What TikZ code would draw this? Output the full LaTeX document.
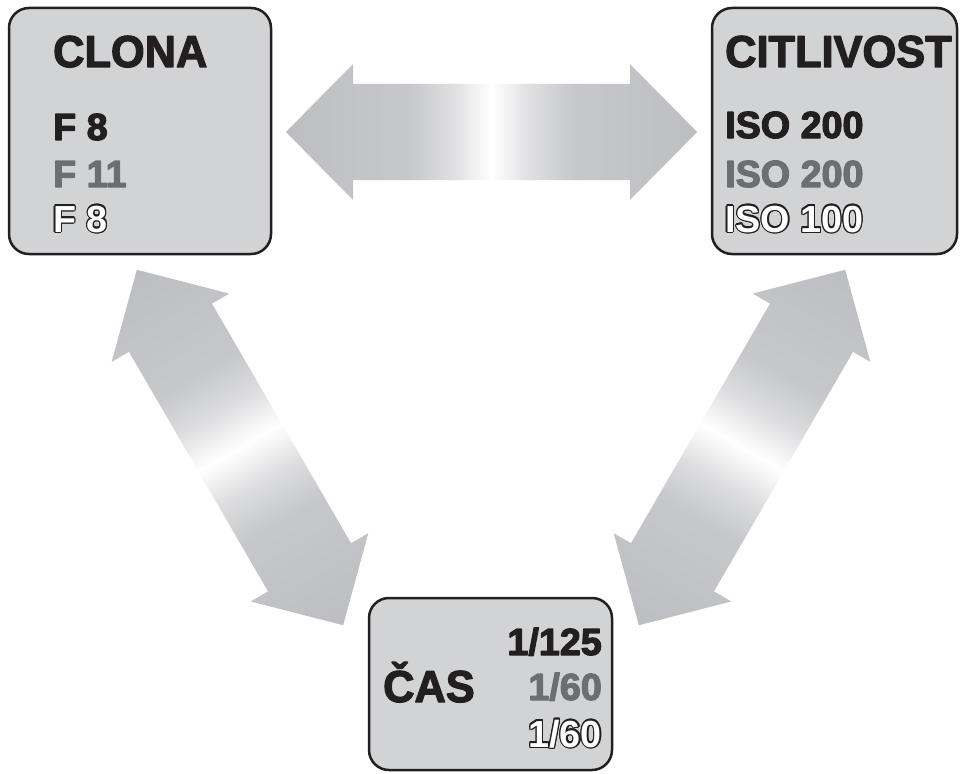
\documentclass[tikz,border=0pt]{standalone}
\usepackage{fontspec}
\setmainfont{Liberation Sans}
\newfontfamily\titlefont{Liberation Sans}[FakeStretch=0.97]
\definecolor{ink}{HTML}{231F20}
\definecolor{midgrey}{HTML}{6D6E71}
\definecolor{boxfill}{HTML}{D1D3D4}
\definecolor{ag}{RGB}{189,190,194}
\pgfdeclarehorizontalshading{arrowshade}{100bp}{color(0bp)=(ag); color(25bp)=(ag); color(40bp)=(ag!85!white); color(45bp)=(ag!52!white); color(48.5bp)=(ag!15!white); color(50bp)=(white); color(51.5bp)=(ag!15!white); color(55bp)=(ag!52!white); color(60bp)=(ag!85!white); color(75bp)=(ag); color(100bp)=(ag)}
% heavier solid text: fill and stroke in the text colour
\newcommand\heavytxt[1]{\special{pdf:literal direct q 2 Tr 1.2 w 1 j}#1\special{pdf:literal direct Q}}
\tikzset{
  box/.style={draw=ink, line width=2.5pt, fill=boxfill, rounded corners=20pt, inner sep=0pt},
  lbl/.style={anchor=base west, inner sep=0pt, font=\titlefont\bfseries\fontsize{44.7}{50}\selectfont, text=ink},
  valw/.style={anchor=base west, inner sep=0pt, font=\bfseries\fontsize{37.7}{42}\selectfont},
  vale/.style={anchor=base east, inner sep=0pt, font=\bfseries\fontsize{37.7}{42}\selectfont},
}
\newcommand\fatarrow[3]{%
  \begin{scope}[transform canvas={shift={(#1,#2)},rotate=#3}]
    \shade[shading=arrowshade] (-205.5,0) -- (-138.5,68) -- (-138.5,48) -- (138.5,48) -- (138.5,68) -- (205.5,0) -- (138.5,-68) -- (138.5,-48) -- (-138.5,-48) -- (-138.5,-68) -- cycle;
  \end{scope}}
\newcommand\outl[5]{%
  \foreach \a in {0,30,...,330}{%
    \node[#4, text=ink, xshift={1.3*cos(\a)}, yshift={1.3*sin(\a)}] (#1-\a) at (#2,#3) {#5};}
  \node[#4, text=white] (#1) at (#2,#3) {#5};}
\begin{document}
\begin{tikzpicture}[x=1pt,y=-1pt]
\useasboundingbox[fill=white] (0,0) rectangle (960,773);
% arrows
\fatarrow{491.5}{132}{0}
\fatarrow{240}{447.5}{-59.87}
\fatarrow{742}{447.5}{59.87}
% boxes
\node[box, minimum width=262pt, minimum height=246pt] (clona) at (140,131) {};
\node[box, minimum width=245pt, minimum height=246pt] (citlivost) at (834.5,131) {};
\node[box, minimum width=243pt, minimum height=172pt] (cas) at (490.5,684) {};
% CLONA
\node[lbl] (t1) at (53,67) {\heavytxt{CLONA}};
\node[valw, text=ink] (c1) at (53,140) {\heavytxt{F 8}};
\node[valw, text=midgrey] (c2) at (53,187) {\heavytxt{F 11}};
\outl{c3}{53}{232}{valw}{F 8}
% CITLIVOST
\node[lbl] (t2) at (725,67) {\heavytxt{CITLIVOST}};
\node[valw, text=ink] (s1) at (725,138) {\heavytxt{ISO 200}};
\node[valw, text=midgrey] (s2) at (725,187) {\heavytxt{ISO 200}};
\outl{s3}{725}{232}{valw}{ISO 100}
% CAS
\node[lbl] (t3) at (383,702) {\heavytxt{ČAS}};
\node[vale, text=ink] (e1) at (602,655) {\heavytxt{1/125}};
\node[vale, text=midgrey] (e2) at (602,700) {\heavytxt{1/60}};
\outl{e3}{602}{747}{vale}{1/60}
\end{tikzpicture}
\end{document}
